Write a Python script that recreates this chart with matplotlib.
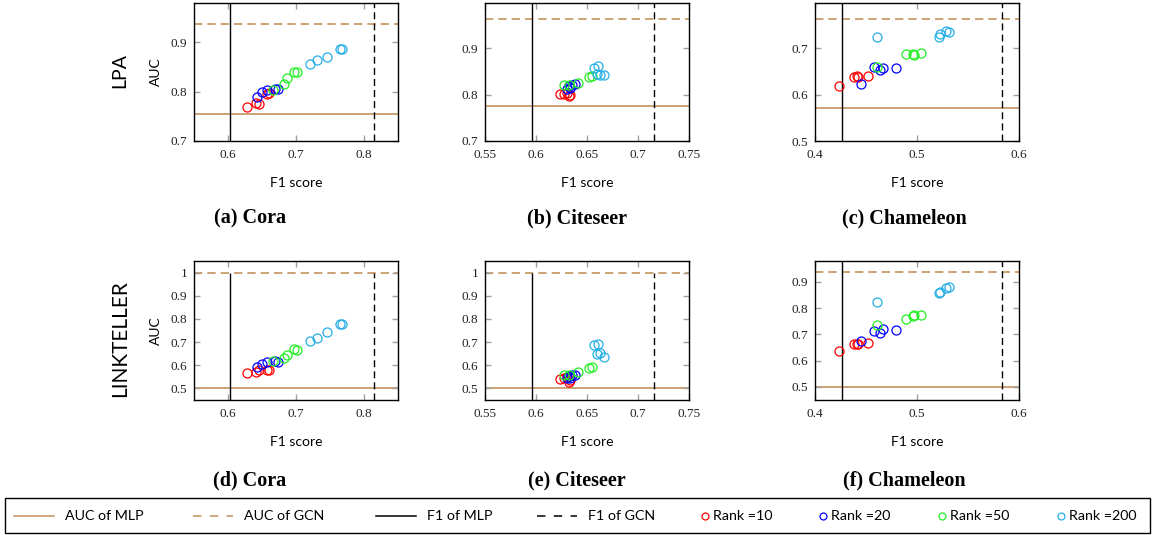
import matplotlib
matplotlib.use("Agg")
import matplotlib.pyplot as plt
from matplotlib.ticker import MultipleLocator, FuncFormatter
from matplotlib.patches import Rectangle

# F1 score per rank (rows: rank 10, 20, 50, 200), shared by LPA and LinkTeller
ranks = ["10", "20", "50", "200"]
cora_f1 = [
    [0.628, 0.641, 0.645, 0.658, 0.661],
    [0.643, 0.650, 0.658, 0.669, 0.673],
    [0.666, 0.682, 0.687, 0.697, 0.701],
    [0.720, 0.731, 0.745, 0.764, 0.767],
]
citeseer_f1 = [
    [0.624, 0.627, 0.630, 0.632, 0.633],
    [0.630, 0.632, 0.633, 0.635, 0.638],
    [0.627, 0.632, 0.641, 0.652, 0.655],
    [0.657, 0.661, 0.660, 0.663, 0.667],
]
chameleon_f1 = [
    [0.4236, 0.4387, 0.4407, 0.4420, 0.4518],
    [0.4450, 0.4580, 0.4640, 0.4666, 0.4797],
    [0.4607, 0.4890, 0.4960, 0.4970, 0.5036],
    [0.4610, 0.5220, 0.5230, 0.5285, 0.5310],
]

# AUC of LPA attack
cora_auc_lpa = [
    [0.768, 0.777, 0.776, 0.795, 0.798],
    [0.790, 0.800, 0.803, 0.806, 0.806],
    [0.804, 0.816, 0.827, 0.840, 0.840],
    [0.856, 0.865, 0.870, 0.887, 0.887],
]
citeseer_auc_lpa = [
    [0.802, 0.801, 0.803, 0.797, 0.800],
    [0.812, 0.818, 0.815, 0.820, 0.823],
    [0.820, 0.820, 0.825, 0.839, 0.841],
    [0.858, 0.862, 0.845, 0.843, 0.842],
]
chameleon_auc_lpa = [
    [0.618, 0.639, 0.641, 0.639, 0.641],
    [0.623, 0.660, 0.654, 0.657, 0.657],
    [0.659, 0.688, 0.688, 0.686, 0.690],
    [0.724, 0.725, 0.731, 0.738, 0.735],
]

# AUC of LinkTeller attack
cora_auc_lt = [
    [0.568, 0.572, 0.579, 0.578, 0.578],
    [0.594, 0.604, 0.612, 0.618, 0.615],
    [0.620, 0.633, 0.643, 0.672, 0.666],
    [0.706, 0.719, 0.742, 0.777, 0.778],
]
citeseer_auc_lt = [
    [0.541, 0.545, 0.550, 0.527, 0.535],
    [0.546, 0.555, 0.545, 0.557, 0.560],
    [0.560, 0.560, 0.571, 0.590, 0.593],
    [0.686, 0.690, 0.650, 0.652, 0.637],
]
chameleon_auc_lt = [
    [0.637, 0.662, 0.662, 0.662, 0.669],
    [0.675, 0.713, 0.704, 0.721, 0.718],
    [0.737, 0.758, 0.770, 0.774, 0.776],
    [0.823, 0.857, 0.861, 0.877, 0.880],
]

# baselines (Cora, Citeseer, Chameleon)
f1_mlp = [0.603, 0.596, 0.426]
f1_gcn = [0.815, 0.7156, 0.583]
auc_mlp_lpa = [0.755, 0.775, 0.572]
auc_gcn_lpa = [0.938, 0.963, 0.763]
auc_mlp_lt = [0.500, 0.500, 0.500]
auc_gcn_lt = [1.000, 1.000, 0.939]

datasets = ["Cora", "Citeseer", "Chameleon"]
letters = ["a", "b", "c", "d", "e", "f"]

rank_colors = ["#ff0000", "#0000ff", "#22ee22", "#26aee6"]
brown = "#c4915e"
W, H = 1156, 535

plt.rcParams["font.family"] = ["Liberation Serif", "DejaVu Serif"]
fig = plt.figure(figsize=(W / 100, H / 100), dpi=100)

col_left = [194, 485, 815]
col_width = 204
row_top = [3, 261]
row_height = [138, 139]
xlims = [(0.55, 0.85), (0.55, 0.75), (0.4, 0.6)]
xsteps = [0.1, 0.05, 0.1]
ylims = [
    [(0.7, 0.98), (0.7, 0.998), (0.5, 0.798)],
    [(0.45, 1.05), (0.45, 1.05), (0.45, 0.98)],
]

f1_all = [cora_f1, citeseer_f1, chameleon_f1]
auc_all = [
    [cora_auc_lpa, citeseer_auc_lpa, chameleon_auc_lpa],
    [cora_auc_lt, citeseer_auc_lt, chameleon_auc_lt],
]
auc_mlp_all = [auc_mlp_lpa, auc_mlp_lt]
auc_gcn_all = [auc_gcn_lpa, auc_gcn_lt]

fmt = FuncFormatter(lambda v, p: f"{v:g}")
sans = ["Lato", "DejaVu Sans"]

for r in range(2):
    for c in range(3):
        ax = fig.add_axes([
            col_left[c] / W,
            1 - (row_top[r] + row_height[r]) / H,
            col_width / W,
            row_height[r] / H,
        ])
        ylo, yhi = ylims[r][c]
        ax.axhline(auc_mlp_all[r][c], color=brown, lw=1.2, zorder=1)
        ax.axhline(auc_gcn_all[r][c], color=brown, lw=1.2, ls=(0, (5, 3)), zorder=1)
        ax.vlines(f1_mlp[c], ylo, min(yhi, 1.0), color="black", lw=1.0, zorder=1)
        ax.vlines(f1_gcn[c], ylo, min(yhi, 1.0), color="black", lw=1.0,
                  linestyles=[(0, (5, 3))], zorder=1)
        for k in range(4):
            ax.plot(f1_all[c][k], auc_all[r][c][k], "o", ls="none", ms=6.5,
                    mfc="none", mec=rank_colors[k], mew=0.9, zorder=3)
        ax.set_xlim(*xlims[c])
        ax.set_ylim(ylo, yhi)
        ax.xaxis.set_major_locator(MultipleLocator(xsteps[c]))
        ax.yaxis.set_major_locator(MultipleLocator(0.1))
        ax.xaxis.set_major_formatter(fmt)
        ax.yaxis.set_major_formatter(fmt)
        ax.tick_params(direction="in", length=4, width=1, color="#a0a0a0",
                       top=True, right=True, labelsize=9.5, labelcolor="#222222")
        ax.tick_params(axis="x", pad=6)
        ax.tick_params(axis="y", pad=5)
        for s in ax.spines.values():
            s.set_linewidth(1.0)
        ax.set_xlabel("F1 score", family=sans, fontsize=10, labelpad=11)
        if c == 0:
            ax.set_ylabel("AUC", family=sans, fontsize=10, labelpad=6)
        cx = [250, 577, 904][c]
        cy = [218, 480][r]
        fig.text(cx / W, 1 - cy / H, f"({letters[r * 3 + c]}) {datasets[c]}",
                 ha="center", va="center", fontsize=14.5, fontweight="bold")

fig.text(120 / W, 1 - 70 / H, "LPA", family=sans, fontsize=14,
         rotation=90, ha="center", va="center")
fig.text(120 / W, 1 - 339 / H, "LINKTELLER", family=sans, fontsize=15,
         rotation=90, ha="center", va="center")

# legend box drawn in its own pixel-scaled axes
lax = fig.add_axes([0, 0, 1, 1 - 495 / H])
lax.set_xlim(0, W)
lax.set_ylim(H, 495)
lax.axis("off")
lax.add_patch(Rectangle((5, 498), 1145, 35, fill=False, lw=1.0, ec="black"))
ly = 515.5
line_items = [
    ("AUC of MLP", brown, "-", 14),
    ("AUC of GCN", brown, (0, (5.5, 5.5)), 193),
    ("F1 of MLP", "black", "-", 376),
    ("F1 of GCN", "black", (0, (5.5, 5.5)), 537),
]
for label, col, ls, x0 in line_items:
    lax.plot([x0, x0 + 40], [ly, ly], color=col, ls=ls, lw=1.1)
    lax.text(x0 + 51, ly, label, family=sans, fontsize=10.3, va="center")
marker_x = [705, 823, 942, 1061]
for k in range(4):
    lax.plot([marker_x[k]], [ly], "o", ms=5, mfc="none",
             mec=rank_colors[k], mew=0.9)
    lax.text(marker_x[k] + 8, ly, f"Rank ={ranks[k]}", family=sans,
             fontsize=10.3, va="center")

fig.savefig("out.png", dpi=100)
